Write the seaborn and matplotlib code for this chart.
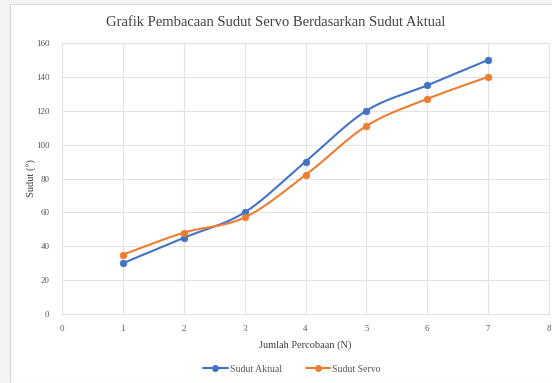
import numpy as np
import pandas as pd
import matplotlib
matplotlib.use("Agg")
import matplotlib.pyplot as plt
import seaborn as sns
from matplotlib.patches import Rectangle
from matplotlib.lines import Line2D

percobaan = [1, 2, 3, 4, 5, 6, 7]
sudut_aktual = [30, 45, 60, 90, 120, 135, 150]
sudut_servo = [35, 48, 57, 82, 111, 127, 140]

x_ticks = [0, 1, 2, 3, 4, 5, 6, 7, 8]
y_ticks = [0, 20, 40, 60, 80, 100, 120, 140, 160]

blue = "#4472C4"
orange = "#ED7D31"


def smooth_curve(x, y, steps=40):
    # excel-style smoothed line: bezier segments with catmull-rom control points
    p = np.column_stack([x, y]).astype(float)
    p = np.vstack([p[0], p, p[-1]])
    out = []
    for i in range(1, len(p) - 2):
        p0, p1, p2, p3 = p[i - 1], p[i], p[i + 1], p[i + 2]
        c1 = p1 + (p2 - p0) / 6
        c2 = p2 - (p3 - p1) / 6
        t = np.linspace(0, 1, steps)[:, None]
        seg = (1 - t) ** 3 * p1 + 3 * (1 - t) ** 2 * t * c1 + 3 * (1 - t) * t ** 2 * c2 + t ** 3 * p2
        out.append(seg if i == 1 else seg[1:])
    out = np.vstack(out)
    return out[:, 0], out[:, 1]


sns.set_theme(style="white")
plt.rcParams["font.family"] = ["Liberation Serif", "DejaVu Serif"]

fig = plt.figure(figsize=(5.52, 3.83), dpi=100)
fig.patch.set_facecolor("#F3F3F5")
fig.patches.append(Rectangle((10 / 552, 0), 1, 1 - 4 / 383, transform=fig.transFigure,
                             facecolor="white", edgecolor="#D9D9D9", lw=0.8, zorder=-5))

ax = fig.add_axes([62 / 552, 1 - 314 / 383, 487 / 552, 271 / 383])
ax.set_zorder(2)
ax.set_facecolor("white")

series = [("Sudut Aktual", sudut_aktual, blue), ("Sudut Servo", sudut_servo, orange)]
for name, vals, col in series:
    sx, sy = smooth_curve(percobaan, vals)
    curve = pd.DataFrame({"x": sx, "y": sy})
    sns.lineplot(data=curve, x="x", y="y", sort=False, color=col, lw=1.5, ax=ax, zorder=3)
    pts = pd.DataFrame({"x": percobaan, "y": vals})
    sns.scatterplot(data=pts, x="x", y="y", color=col, s=24, edgecolor=col, ax=ax, zorder=4)

ax.set_xlim(0, 8)
ax.set_ylim(0, 160)
ax.set_xticks(x_ticks)
ax.set_yticks(y_ticks)
ax.grid(True, color="#E3E3E3", lw=0.8)
for s in ax.spines.values():
    s.set_color("#E3E3E3")
    s.set_linewidth(0.8)
ax.tick_params(axis="both", length=0, labelsize=6.5, labelcolor="#595959")
ax.tick_params(axis="x", pad=8)
ax.tick_params(axis="y", pad=9)

ax.set_xlabel("Jumlah Percobaan (N)", fontsize=7.5, color="#404040", labelpad=5)
ax.set_ylabel("Sudut (°)", fontsize=7.5, color="#404040", labelpad=-1)
fig.text(0.5, 1 - 22 / 383, "Grafik Pembacaan Sudut Servo Berdasarkan Sudut Aktual",
         ha="center", va="center", fontsize=10.5, color="#404040")

handles = [Line2D([0], [0], color=c, lw=1.5, marker="o", markersize=4) for _, _, c in series]
fig.legend(handles, [n for n, _, _ in series], loc="center", bbox_to_anchor=(292 / 552, 1 - 369 / 383),
           ncol=2, frameon=False, fontsize=7, handlelength=2.5, handletextpad=0.2, columnspacing=2.5,
           labelcolor="#595959")

fig.savefig("out.png", dpi=100, facecolor=fig.get_facecolor())
